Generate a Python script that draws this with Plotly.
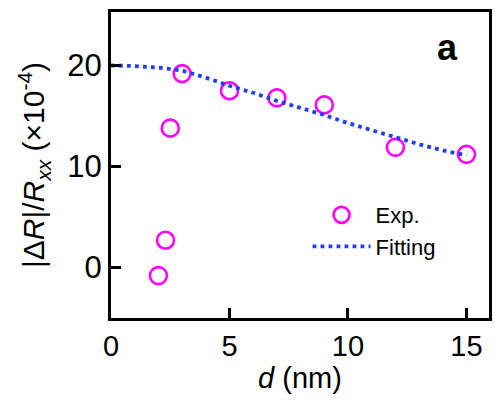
import plotly.graph_objects as go

# Experimental data
exp_d = [2.0, 2.3, 2.5, 3.0, 5.0, 7.0, 9.0, 12.0, 15.0]
exp_val = [-0.8, 2.7, 13.8, 19.2, 17.5, 16.8, 16.1, 11.9, 11.2]

# Fitting curve
fit_d = [0, 1, 2, 3, 4, 5, 6, 7, 8, 9, 10, 11, 12, 13, 14, 15]
fit_val = [20.0, 19.95, 19.8, 19.5, 18.8, 18.0, 17.3, 16.5, 15.8, 15.1, 14.3, 13.6, 12.9, 12.2, 11.6, 11.1]

x_ticks = [0, 5, 10, 15]
y_ticks = [0, 10, 20]

FONT = "Liberation Sans, Arial, sans-serif"

fig = go.Figure()
fig.add_trace(go.Scatter(
    x=exp_d, y=exp_val, mode="markers", name="Exp.",
    marker=dict(symbol="circle-open", size=17, color="#FF00FF",
                line=dict(width=2.6, color="#FF00FF")),
))
fig.add_trace(go.Scatter(
    x=fit_d, y=fit_val, mode="lines", name="Fitting",
    line=dict(color="#1F3FF0", width=3.8, dash="3.8px,4.2px"),
))

axis_common = dict(
    showline=True, linecolor="black", linewidth=3, mirror=True,
    ticks="inside", ticklen=10, tickwidth=3, tickcolor="black",
    showgrid=False, zeroline=False,
)

fig.update_layout(
    width=495, height=406,
    margin=dict(l=111, r=3, t=12, b=88),
    paper_bgcolor="white", plot_bgcolor="white",
    font=dict(family=FONT, color="black"),
    showlegend=True,
    legend=dict(x=0.52, y=0.405, xanchor="left", yanchor="top",
                bgcolor="rgba(0,0,0,0)", font=dict(family=FONT, size=22, color="black"),
                tracegroupgap=0, itemwidth=58),
    xaxis=dict(range=[0, 15.95], tickvals=x_ticks,
               tickfont=dict(family=FONT, size=29, color="black"),
               title=dict(text="<i>d</i> (nm)", font=dict(family=FONT, size=29), standoff=4),
               **axis_common),
    yaxis=dict(range=[-5, 25.3], tickvals=y_ticks,
               tickfont=dict(family=FONT, size=31, color="black"),
               title=dict(text="|Δ<i>R</i>|/<i>R</i><sub><i>xx</i></sub> (×10<sup>-4</sup>)",
                          font=dict(family=FONT, size=30), standoff=14),
               **axis_common),
    annotations=[dict(text="<b>a</b>", x=0.89, y=0.885, xref="paper", yref="paper",
                      xanchor="center", yanchor="middle",
                      showarrow=False, font=dict(family=FONT, size=36, color="black"))],
)

fig.write_html("out.html")
